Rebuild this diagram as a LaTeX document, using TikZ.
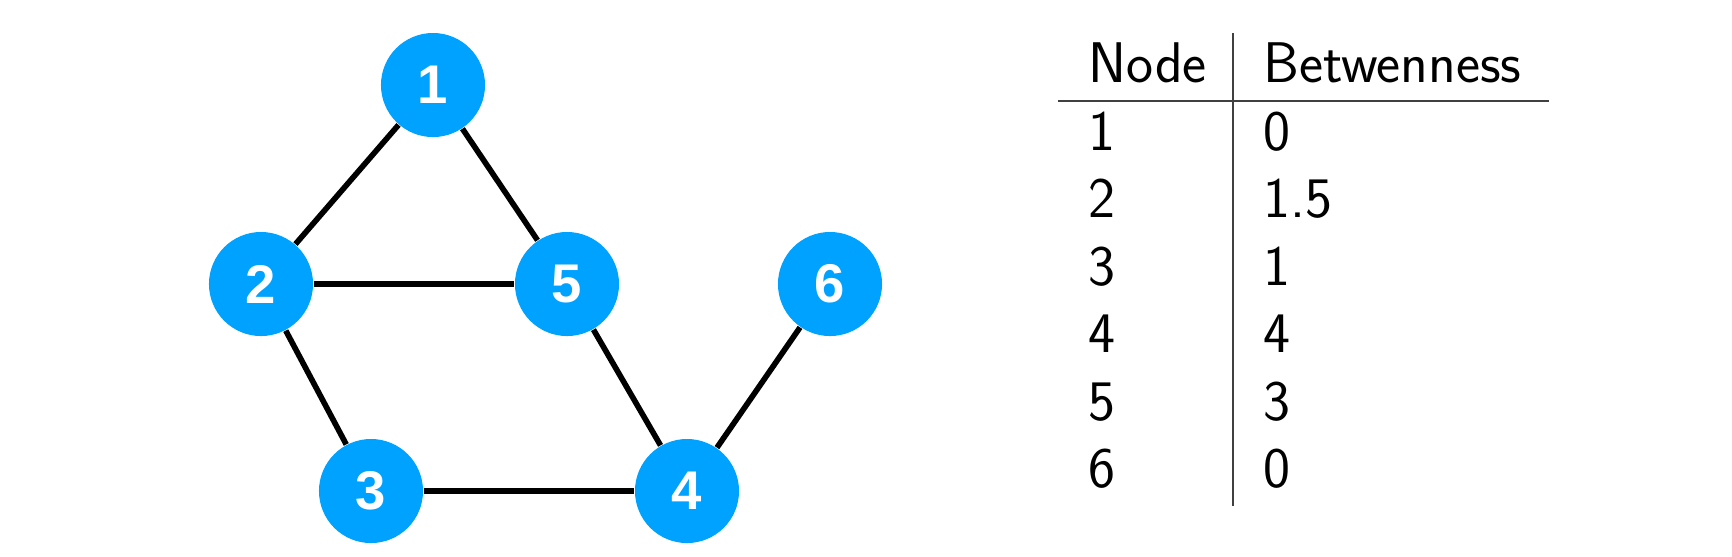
\documentclass[tikz,border=0pt]{standalone}
\usepackage{fontspec}
\newfontfamily\vertexfont{Liberation Sans}
\usepackage{tikz}
\usetikzlibrary{arrows}
\definecolor{vblue}{HTML}{00A2FF}

\begin{document}
\begin{tikzpicture}[x=0.01cm,y=-0.01cm,thin]
                \tikzset{vertex/.style={circle, fill=vblue, minimum size=1.04cm, inner sep=0pt, text=white, font=\vertexfont\bfseries\fontsize{15.5}{18}\selectfont}}
                \tikzset{link/.style={line width=1.6pt, black}}
                \tikzset{cell/.style={anchor=base west, inner sep=0pt, font=\sffamily\fontsize{16.3}{19}\selectfont}}
                \tikzset{rule/.style={line width=0.6pt, black!75}}
                \useasboundingbox (0,0) rectangle (1732,556);
                % graph
                \node[vertex] (v1) at (433,85) {1};
                \node[vertex] (v2) at (261,284) {2};
                \node[vertex] (v5) at (567,284) {5};
                \node[vertex] (v6) at (830,284) {6};
                \node[vertex] (v3) at (371,491) {3};
                \node[vertex] (v4) at (687,491) {4};
                \path (v1) edge[link] (v2);
                \path (v1) edge[link] (v5);
                \path (v2) edge[link] (v5);
                \path (v2) edge[link] (v3);
                \path (v3) edge[link] (v4);
                \path (v5) edge[link] (v4);
                \path (v6) edge[link] (v4);
                % table
                \node[cell] (hnode) at (1088,82) {Node};
                \node[cell] (hbet) at (1263,82) {Betwenness};
                \node[cell] (n1) at (1088,150) {1};
                \node[cell] (b1) at (1263,150) {0};
                \node[cell] (n2) at (1088,217) {2};
                \node[cell] (b2) at (1263,217) {1.5};
                \node[cell] (n3) at (1088,285) {3};
                \node[cell] (b3) at (1263,285) {1};
                \node[cell] (n4) at (1088,352) {4};
                \node[cell] (b4) at (1263,352) {4};
                \node[cell] (n5) at (1088,420) {5};
                \node[cell] (b5) at (1263,420) {3};
                \node[cell] (n6) at (1088,487) {6};
                \node[cell] (b6) at (1263,487) {0};
                \coordinate (ctop) at (1233,33);
                \coordinate (cbot) at (1233,506);
                \coordinate (rleft) at (1058,101);
                \coordinate (rright) at (1549,101);
                \draw[rule] (ctop) -- (cbot);
                \draw[rule] (rleft) -- (rright);
            \end{tikzpicture}
\end{document}
